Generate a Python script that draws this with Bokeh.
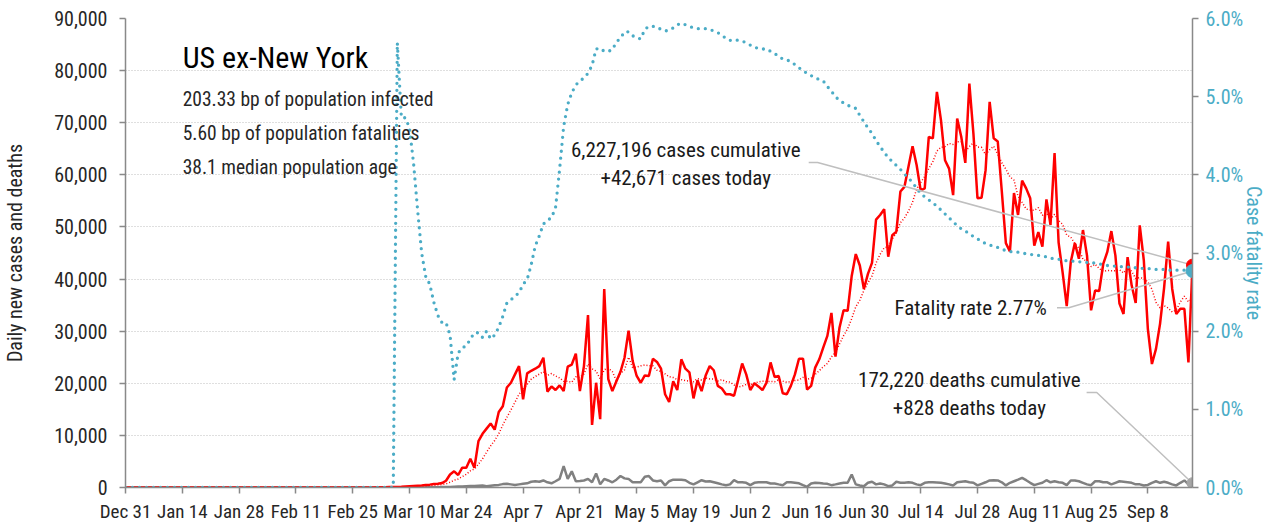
import pandas as pd
from bokeh.plotting import figure
from bokeh.models import (Range1d, LinearAxis, FixedTicker, NumeralTickFormatter,
                          PrintfTickFormatter, ColumnDataSource, Label)
from bokeh.embed import file_html
from bokeh.resources import INLINE

FONT = "'Roboto Condensed', 'Liberation Sans Narrow', 'DejaVu Sans Condensed', Roboto, sans-serif"

# ---- x axis: day index since Dec 31, 2019 ----
tick_days = [0, 14, 28, 42, 56, 70, 84, 98, 112, 126, 140, 154, 168, 182, 196, 210, 224, 238, 252]
tick_labels = ["Dec 31", "Jan 14", "Jan 28", "Feb 11", "Feb 25", "Mar 10", "Mar 24", "Apr 7",
               "Apr 21", "May 5", "May 19", "Jun 2", "Jun 16", "Jun 30", "Jul 14", "Jul 28",
               "Aug 11", "Aug 25", "Sep 8"]

# ---- daily new cases (Dec 31 .. Sep 19) ----
cases_before_mar = [0] * 61
cases_from_mar = [
    20, 30, 40, 60, 80, 100, 120, 150, 200, 250,
    300, 350, 400, 500, 550, 650, 700, 850, 1300, 2500,
    3100, 2400, 3800, 3800, 5500, 3800, 8900, 10300, 11300, 12300,
    11100, 14500, 15600, 19200, 20100, 21700, 23300, 16900, 21900, 22400,
    22800, 23300, 24900, 18400, 19400, 18700, 19600, 18500, 23200, 23600,
    25700, 18500, 23300, 33100, 12000, 20100, 13100, 38100, 20800, 18500,
    20400, 22200, 24900, 30100, 24300, 21400, 20100, 21500, 21400, 24700,
    24100, 22800, 17900, 16400, 20400, 18700, 24600, 22800, 22100, 17100,
    20600, 18500, 21500, 23300, 22500, 19500, 19000, 17900, 17900, 17600,
    20600, 23800, 21700, 18700, 20000, 19400, 18700, 20100, 24000, 21200,
    21400, 18100, 17900, 19500, 21700, 24700, 24700, 18800, 19500, 23000,
    24600, 26900, 29100, 33500, 25100, 30700, 34000, 33900, 40600, 44800,
    42600, 38100, 41000, 43100, 51400, 52300, 53400, 44300, 48400, 49100,
    56800, 57700, 61600, 65500, 61900, 57000, 57400, 67300, 67000, 75900,
    70500, 62800, 61200, 56100, 70800, 67300, 62300, 77500, 67900, 55500,
    55600, 60900, 74000, 67000, 66400, 56800, 46900, 45300, 56500, 52300,
    58900, 57400, 55500, 46400, 49000, 46200, 55300, 50400, 64200, 47000,
    41200, 34800, 43300, 46900, 43900, 49400, 44500, 34000, 37800, 37700,
    42900, 45200, 49200, 44500, 35300, 33300, 44200, 38800, 35400, 50300,
    43600, 30400, 23700, 26600, 31400, 38300, 47200, 38100, 33300, 34300,
    34300, 24000, 42671,
]
cases = cases_before_mar + cases_from_mar

# ---- daily new deaths ----
deaths_before_mar = [0] * 61
deaths_from_mar = [
    0, 0, 0, 1, 1, 2, 3, 4, 5, 8,
    10, 15, 20, 25, 40, 50, 60, 80, 100, 120,
    150, 180, 200, 250, 280, 300, 350, 380, 250, 350,
    450, 500, 650, 700, 600, 500, 600, 700, 800, 1100,
    1200, 1100, 1350, 1000, 800, 1200, 1650, 4100, 1650, 3100,
    1200, 1250, 1350, 1650, 1000, 2700, 600, 1650, 1350, 1000,
    1500, 2200, 1750, 1650, 1000, 1000, 1000, 2050, 2200, 1350,
    1200, 1350, 400, 1200, 1500, 1500, 1500, 1400, 900, 600,
    1000, 1400, 1150, 1200, 1000, 800, 600, 450, 600, 1400,
    1000, 1000, 900, 450, 900, 1000, 1000, 1000, 770, 770,
    600, 450, 1000, 1000, 900, 800, 450, 130, 770, 900,
    850, 770, 700, 450, 600, 770, 900, 900, 2500, 600,
    400, 250, 900, 1100, 600, 770, 600, 250, 400, 1100,
    900, 900, 1000, 900, 600, 450, 900, 1000, 1000, 950,
    900, 770, 600, 400, 1000, 1100, 1200, 1000, 900, 400,
    700, 1000, 1350, 1400, 1350, 1000, 400, 900, 1200, 1500,
    1850, 1400, 900, 450, 700, 900, 1400, 1000, 1200, 1000,
    900, 450, 1350, 1350, 1200, 900, 600, 450, 1200, 1200,
    1000, 1000, 600, 900, 1200, 1100, 1000, 900, 600, 600,
    400, 500, 900, 1200, 900, 1100, 900, 600, 400, 900,
    1350, 600, 828,
]
deaths = deaths_before_mar + deaths_from_mar

# ---- case fatality rate (%) ----
cfr_before = [0] * 67
cfr_from = [
    5.69, 4.73, 4.73, 4.60,
    4.15, 3.55, 3.00, 2.70, 2.60, 2.37, 2.20, 2.11, 2.11, 1.95,
    1.38, 1.72, 1.79, 1.81, 1.90, 1.98, 1.98, 1.92, 2.00, 1.90,
    1.95, 2.05, 2.19, 2.36, 2.40, 2.45, 2.49, 2.60, 2.66, 2.85,
    3.09, 3.22, 3.37, 3.42, 3.45, 3.58, 4.07, 4.62, 4.90, 5.05,
    5.15, 5.20, 5.24, 5.30, 5.40, 5.61, 5.62, 5.58, 5.58, 5.60,
    5.70, 5.75, 5.83, 5.83, 5.78, 5.75, 5.74, 5.86, 5.90, 5.90,
    5.89, 5.86, 5.84, 5.85, 5.88, 5.92, 5.94, 5.92, 5.90, 5.88,
    5.87, 5.87, 5.87, 5.86, 5.84, 5.82, 5.78, 5.75, 5.72, 5.73,
    5.72, 5.71, 5.69, 5.66, 5.63, 5.62, 5.61, 5.61, 5.58, 5.55,
    5.52, 5.48, 5.47, 5.45, 5.41, 5.37, 5.33, 5.30, 5.27, 5.24,
    5.22, 5.20, 5.13, 5.07, 5.00, 4.95, 4.92, 4.89, 4.87, 4.85,
    4.76, 4.68, 4.60, 4.53, 4.44, 4.36, 4.29, 4.22, 4.17, 4.12,
    4.07, 4.01, 3.96, 3.90, 3.83, 3.76, 3.72, 3.68, 3.64, 3.60,
    3.55, 3.50, 3.45, 3.40, 3.35, 3.31, 3.28, 3.25, 3.21, 3.18,
    3.15, 3.12, 3.10, 3.09, 3.07, 3.05, 3.03, 3.02, 3.01, 3.01,
    3.00, 2.99, 2.98, 2.98, 2.97, 2.96, 2.95, 2.93, 2.93, 2.92,
    2.91, 2.90, 2.90, 2.89, 2.89, 2.88, 2.88, 2.88, 2.87, 2.86,
    2.85, 2.84, 2.84, 2.83, 2.83, 2.82, 2.82, 2.82, 2.81, 2.81,
    2.80, 2.80, 2.80, 2.79, 2.79, 2.79, 2.78, 2.78, 2.78, 2.78,
    2.78, 2.77, 2.77,
]
cfr = cfr_before + cfr_from

days = list(range(len(cases)))
cases_avg7 = pd.Series(cases).rolling(7, min_periods=1).mean().tolist()
last = days[-1]

src = ColumnDataSource(dict(day=days, cases=cases, avg=cases_avg7, deaths=deaths, cfr=cfr))

# ---- texts ----
title_text = "US ex-New York"
info_lines = ["203.33 bp of population infected",
              "5.60 bp of population fatalities",
              "38.1 median population age"]
cases_note = ["6,227,196 cases cumulative", "+42,671 cases today"]
cfr_note = "Fatality rate 2.77%"
deaths_note = ["172,220 deaths cumulative", "+828 deaths today"]

RED = "#FF0000"
BLUE = "#4BACC6"
GREY = "#808080"
AXIS = "#898989"
LEAD = "#BFBFBF"
TXT = "#1a1a1a"

p = figure(width=1270, height=526, output_backend="svg", toolbar_location=None,
           x_range=Range1d(0, last), y_range=Range1d(0, 90000),
           min_border_left=125, min_border_right=78, min_border_top=18, min_border_bottom=39,
           outline_line_color=None, background_fill_color="white", border_fill_color="white")
p.extra_y_ranges = {"cfr": Range1d(0, 6)}

# grid
p.xgrid.visible = False
p.ygrid.ticker = FixedTicker(ticks=list(range(0, 90001, 10000)))
p.ygrid.grid_line_color = "#BFBFBF"
p.ygrid.grid_line_dash = "1 2"
p.ygrid.grid_line_width = 1

def style_axis(ax, color=TXT, size="19px"):
    ax.axis_line_color = AXIS
    ax.axis_line_width = 1.5
    ax.major_tick_line_color = AXIS
    ax.major_tick_line_width = 1.5
    ax.major_tick_out = 6
    ax.major_tick_in = 0
    ax.minor_tick_line_color = None
    ax.major_label_text_font = FONT
    ax.major_label_text_font_size = size
    ax.major_label_text_color = color
    ax.axis_label_text_font = FONT
    ax.axis_label_text_font_size = "20px"
    ax.axis_label_text_font_style = "normal"

# left axis
yax = p.yaxis[0]
style_axis(yax, "#262626", "20px")
yax.ticker = FixedTicker(ticks=list(range(0, 90001, 10000)))
yax.formatter = NumeralTickFormatter(format="0,0")
yax.major_label_standoff = 12
yax.axis_label = "Daily new cases and deaths"
yax.axis_label_text_color = "#262626"
yax.axis_label_standoff = 24

# bottom axis
xax = p.xaxis[0]
style_axis(xax, "#262626", "19px")
xax.ticker = FixedTicker(ticks=tick_days)
xax.major_label_overrides = {d: lab for d, lab in zip(tick_days, tick_labels)}
xax.major_label_standoff = 6

# right axis
rax = LinearAxis(y_range_name="cfr")
style_axis(rax, BLUE, "20px")
rax.ticker = FixedTicker(ticks=[0, 1, 2, 3, 4, 5, 6])
rax.formatter = PrintfTickFormatter(format="%.1f%%")
rax.major_label_standoff = 7
rax.axis_label = "Case fatality rate"
rax.axis_label_text_color = BLUE
rax.axis_label_standoff = -4
p.add_layout(rax, "right")

# series
p.line("day", "deaths", source=src, color=GREY, line_width=2.5)
p.line("day", "avg", source=src, color=RED, line_width=1.5, line_dash="1 2")
p.line("day", "cases", source=src, color=RED, line_width=2.5)
p.line("day", "cfr", source=src, color=BLUE, line_width=3.3, line_dash="0 7",
       line_cap="round", y_range_name="cfr")

# leader lines (label anchor -> last value)
p.line([168.4, 170.6, last], [62370, 62370, cases[-1]], color=LEAD, line_width=1.5)
p.line([229.6, 232.5, last], [2.30, 2.30, cfr[-1]], color=LEAD, line_width=1.5, y_range_name="cfr")
p.line([236.9, 239.4, last], [18230, 18230, deaths[-1]], color=LEAD, line_width=1.5)

# end markers
p.scatter([last], [deaths[-1]], size=11, color="#A6A6A6")
p.scatter([last], [cases[-1]], size=12, color=RED)
p.scatter([last], [cfr[-1]], size=13, color=BLUE, y_range_name="cfr")

# labels
def add_label(x, y, text, size, align="left", color=TXT, rng="default"):
    p.add_layout(Label(x=x, y=y, text=text, text_font=FONT, text_font_size=size,
                       text_color=color, text_align=align, text_baseline="middle",
                       y_range_name=rng))

add_label(14.1, 82600, title_text, "30px", color="#000000")
for yv, line in zip([74550, 67930, 61410], info_lines):
    add_label(14.1, yv, line, "19.5px", color="#262626")
add_label(138.1, 64820, cases_note[0], "21px", align="center")
add_label(138.1, 59450, cases_note[1], "21px", align="center")
add_label(227.1, 34480, cfr_note, "21px", align="right")
add_label(208.0, 20570, deaths_note[0], "21px", align="center")
add_label(208.0, 15260, deaths_note[1], "21px", align="center")

open("out.html", "w").write(file_html(p, INLINE))
